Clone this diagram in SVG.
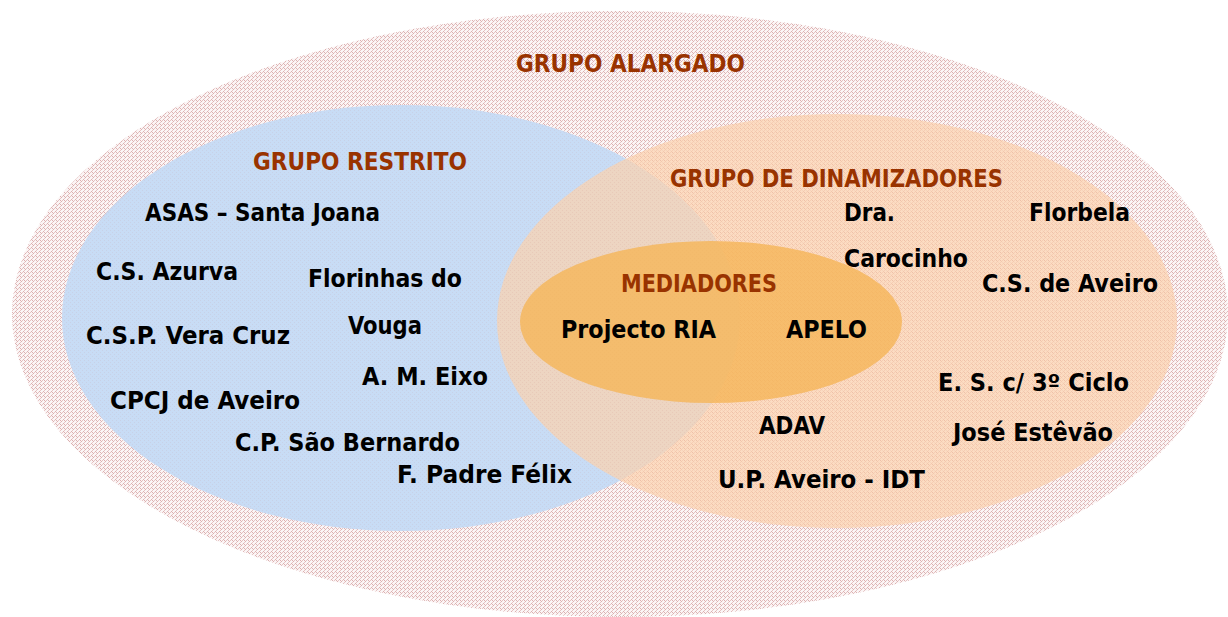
<svg xmlns="http://www.w3.org/2000/svg" width="1228" height="617" viewBox="0 0 1228 617">
<defs>
<pattern id="hatch" width="4" height="4" patternUnits="userSpaceOnUse">
<rect width="4" height="4" fill="#fbf5f5"/>
<rect x="0" y="0" width="1" height="1" fill="#dcb0b0"/>
<rect x="2" y="0" width="1" height="1" fill="#e6c4c4"/>
<rect x="1" y="1" width="1" height="1" fill="#dcb0b0"/>
<rect x="0" y="2" width="1" height="1" fill="#e6c4c4"/>
<rect x="3" y="3" width="1" height="1" fill="#dcb0b0"/>
</pattern>
<pattern id="tex" width="4" height="4" patternUnits="userSpaceOnUse">
<rect x="0" y="0" width="1" height="1" fill="#c08080"/>
<rect x="2" y="2" width="1" height="1" fill="#c08080"/>
</pattern>
</defs>
<style>
text{font-family:"DejaVu Sans Condensed","DejaVu Sans",sans-serif;font-weight:bold;font-size:24px;fill:#000}
.t{fill:#993300}
</style>
<g id="grupo-alargado">
<ellipse cx="620" cy="314" rx="608" ry="303" fill="url(#hatch)"/>
<text class="t" x="516" y="72" textLength="229" lengthAdjust="spacingAndGlyphs">GRUPO ALARGADO</text>
</g>
<g id="grupo-restrito">
<ellipse cx="401" cy="318" rx="339" ry="213" fill="#c8dcf5"/>
<ellipse cx="401" cy="318" rx="339" ry="213" fill="url(#tex)" opacity="0.12"/>
<text class="t" x="253" y="170" textLength="214" lengthAdjust="spacingAndGlyphs">GRUPO RESTRITO</text>
<text x="145" y="221" textLength="235" lengthAdjust="spacingAndGlyphs">ASAS – Santa Joana</text>
<text x="96" y="280" textLength="142" lengthAdjust="spacingAndGlyphs">C.S. Azurva</text>
<text x="308" y="287" textLength="154" lengthAdjust="spacingAndGlyphs">Florinhas do</text>
<text x="348" y="334" textLength="74" lengthAdjust="spacingAndGlyphs">Vouga</text>
<text x="86" y="344" textLength="204" lengthAdjust="spacingAndGlyphs">C.S.P. Vera Cruz</text>
<text x="362" y="385" textLength="126" lengthAdjust="spacingAndGlyphs">A. M. Eixo</text>
<text x="110" y="409" textLength="190" lengthAdjust="spacingAndGlyphs">CPCJ de Aveiro</text>
<text x="235" y="451" textLength="225" lengthAdjust="spacingAndGlyphs">C.P. São Bernardo</text>
<text x="397" y="483" textLength="175" lengthAdjust="spacingAndGlyphs">F. Padre Félix</text>
</g>
<g id="grupo-dinamizadores">
<ellipse cx="837" cy="321" rx="340" ry="207" fill="#fcd2ad" fill-opacity="0.7"/>
<ellipse cx="837" cy="321" rx="340" ry="207" fill="url(#tex)" opacity="0.1"/>
<text class="t" x="670" y="187" textLength="333" lengthAdjust="spacingAndGlyphs">GRUPO DE DINAMIZADORES</text>
<text x="844" y="221" textLength="51" lengthAdjust="spacingAndGlyphs">Dra.</text>
<text x="1029" y="221" textLength="101" lengthAdjust="spacingAndGlyphs">Florbela</text>
<text x="844" y="267" textLength="124" lengthAdjust="spacingAndGlyphs">Carocinho</text>
<text x="982" y="292" textLength="176" lengthAdjust="spacingAndGlyphs">C.S. de Aveiro</text>
<text x="938" y="391" textLength="191" lengthAdjust="spacingAndGlyphs">E. S. c/ 3º Ciclo</text>
<text x="953" y="441" textLength="160" lengthAdjust="spacingAndGlyphs">José Estêvão</text>
<text x="759" y="434" textLength="66" lengthAdjust="spacingAndGlyphs">ADAV</text>
<text x="718" y="488" textLength="207" lengthAdjust="spacingAndGlyphs">U.P. Aveiro - IDT</text>
</g>
<g id="mediadores">
<ellipse cx="711" cy="322" rx="191" ry="81" fill="#f6b350" fill-opacity="0.75"/>
<text class="t" x="621" y="292" textLength="156" lengthAdjust="spacingAndGlyphs">MEDIADORES</text>
<text x="561" y="338" textLength="155" lengthAdjust="spacingAndGlyphs">Projecto RIA</text>
<text x="786" y="338" textLength="81" lengthAdjust="spacingAndGlyphs">APELO</text>
</g>
<g id="connectors"/>
</svg>
